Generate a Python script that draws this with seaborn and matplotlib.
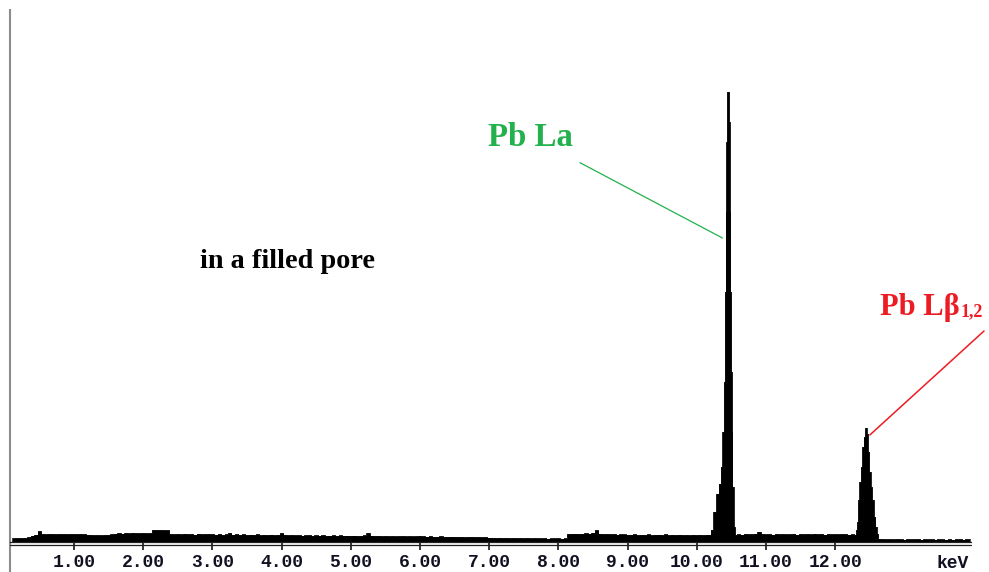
import numpy as np
import pandas as pd
import matplotlib
matplotlib.use("Agg")
import matplotlib.pyplot as plt
import seaborn as sns

# ---------------------------------------------------------------------------
# EDS spectrum (counts per channel), background channels every 0.05 keV
# ---------------------------------------------------------------------------
STEP = 0.05

bg_low_start = 0.10
bg_low = [
    [35, 36, 38, 36, 40, 46, 62, 70, 106, 78, 76, 79, 77, 75, 78, 77, 76, 78],          # 0.10-0.95
    [77, 76, 78, 75, 72, 68, 66, 67, 65, 68, 70, 74, 80, 86, 82, 88, 84, 90, 86, 85],   # 1.00-1.95
    [88, 84, 86, 117, 118, 117, 116, 115, 78, 74, 78, 73, 80, 75, 77, 72, 82, 74, 76, 78],  # 2.00-2.95
    [75, 72, 78, 70, 74, 88, 72, 76, 70, 74, 68, 72, 70, 74, 66, 70, 68, 72, 66, 70],   # 3.00-3.95
    [86, 70, 66, 68, 64, 66, 62, 64, 66, 60, 64, 62, 65, 60, 62, 64, 60, 63, 61, 62],   # 4.00-4.95
    [60, 62, 58, 60, 64, 86, 62, 58, 60, 56, 58, 55, 57, 54, 56, 58, 54, 56, 53, 55],   # 5.00-5.95
    [60, 54, 52, 56, 50, 52, 54, 50, 48, 52, 50, 48, 50, 46, 48, 50, 46, 48, 45, 47],   # 6.00-6.95
    [42, 40, 38, 40, 37, 39, 36, 38, 36, 37, 35, 37, 34, 36, 35, 33, 35, 32, 33, 34],   # 7.00-7.95
    [34, 32, 33, 78, 80, 82, 78, 80, 84, 80, 88, 116, 80, 76, 78, 74, 76, 72, 74, 73],  # 8.00-8.95
    [72, 70, 74, 68, 71, 69, 73, 67, 70, 72, 68, 74, 66, 70, 68, 72, 67, 69, 66, 70],   # 9.00-9.95
    [68, 70, 66, 72],                                                                   # 10.00-10.15
]

# Pb La peak profile
la_energy = [10.18, 10.22, 10.26, 10.30, 10.33, 10.36, 10.38, 10.40, 10.41, 10.42,
             10.43, 10.44, 10.46, 10.47, 10.48, 10.49, 10.50, 10.51, 10.52, 10.54, 10.56]
la_counts = [70, 120, 300, 480, 580, 750, 1100, 1600, 2500, 3300,
             4000, 4500, 4500, 4200, 3300, 2500, 1700, 1100, 550, 150, 70]

bg_mid_start = 10.60
bg_mid = [75, 72, 78, 74, 76, 80, 100, 78, 74, 76, 72, 78, 74, 77, 73, 75, 79,
          72, 76, 74, 78, 73, 80, 75, 77, 72, 78, 74, 76, 73, 77, 75, 72, 74]

# Pb Lb1,2 peak profile
lb_energy = [12.29, 12.31, 12.32, 12.34, 12.36, 12.38, 12.40, 12.42, 12.445,
             12.46, 12.48, 12.50, 12.52, 12.54, 12.57, 12.59, 12.61, 12.63]
lb_counts = [70, 120, 200, 420, 600, 750, 950, 1050, 1140,
             1080, 900, 700, 550, 420, 250, 150, 80, 30]

bg_high_start = 12.65
bg_high = [28, 26, 24, 25, 23, 26, 24, 22, 25, 23, 24, 26, 22, 24,
           23, 25, 22, 24, 23, 21, 24, 22, 23, 25, 22, 24, 23]

tick_values = [1, 2, 3, 4, 5, 6, 7, 8, 9, 10, 11, 12]
tick_labels = ["1.00", "2.00", "3.00", "4.00", "5.00", "6.00",
               "7.00", "8.00", "9.00", "10.00", "11.00", "12.00"]

X_MIN, X_MAX = 0.075, 13.962
Y_MAX = 5327

GREEN = "#22B14C"
RED = "#ED1C24"
MONO = ["Liberation Mono", "DejaVu Sans Mono"]


def channels(start, values):
    return list(start + STEP * np.arange(len(values)))


low_counts = [c for row in bg_low for c in row]
energy = (channels(bg_low_start, low_counts) + la_energy
          + channels(bg_mid_start, bg_mid) + lb_energy
          + channels(bg_high_start, bg_high))
counts = low_counts + la_counts + bg_mid + lb_counts + bg_high
spectrum = pd.DataFrame({"energy": energy, "counts": counts})

# ---------------------------------------------------------------------------
sns.set_theme(style="white")
plt.rcParams["font.family"] = ["Liberation Serif", "DejaVu Serif"]

W, H = 989, 572
fig = plt.figure(figsize=(W / 100, H / 100), dpi=100)
fig.patch.set_facecolor("white")
base_y = 541.7
top_y = 9.0
ax = fig.add_axes([10 / W, (H - base_y) / H, (971 - 10) / W, (base_y - top_y) / H])
ax.set_facecolor("white")

ax.fill_between(spectrum["energy"], 0, spectrum["counts"], step="mid",
                color="black", linewidth=0)
sns.lineplot(data=spectrum, x="energy", y="counts", ax=ax, color="black",
             linewidth=0.6, drawstyle="steps-mid", estimator=None, sort=False)

ax.set_xlim(X_MIN, X_MAX)
ax.set_ylim(0, Y_MAX)
ax.set_xlabel("")
ax.set_ylabel("")
ax.set_yticks([])

# frame: gray left rule running down past the axis, doubled bottom rule
for side in ("top", "right", "left"):
    ax.spines[side].set_visible(False)
ax.spines["bottom"].set_color("#202020")
ax.spines["bottom"].set_linewidth(0.9)
below = -(H - base_y) / (base_y - top_y)
ax.plot([0, 0], [below, 1.0], transform=ax.transAxes, color="#8c8c8c",
        linewidth=1.5, clip_on=False, solid_capstyle="butt")
second = -3.3 / (base_y - top_y)
ax.plot([0, 1], [second, second], transform=ax.transAxes, color="#202020",
        linewidth=0.9, clip_on=False)

ax.set_xticks(tick_values)
ax.set_xticklabels(tick_labels, family=MONO, fontweight="bold", fontsize=13)
ax.tick_params(axis="x", direction="out", length=6, width=1.1,
               colors="black", pad=3, bottom=True)
for lbl in ax.get_xticklabels():
    lbl.set_color("#111122")

label_y = -(564 - base_y) / (base_y - top_y)
ax.text(13.69, label_y, "keV", transform=ax.get_xaxis_transform(),
        ha="center", va="center", family=MONO,
        fontweight="bold", fontsize=13, color="#111122")

# peak labels and leader lines
ax.text(6.983, 3957, "Pb La", color=GREEN, fontsize=23.7, fontweight="bold",
        ha="left", va="baseline")
ax.plot([8.312, 10.37], [3790, 3037], color=GREEN, linewidth=0.9)

ax.text(2.82, 2737, "in a filled pore", color="black", fontsize=20.3,
        fontweight="bold", ha="left", va="baseline")

t_lb = ax.text(12.65, 2267, "Pb L\u03b2", color=RED, fontsize=22,
               fontweight="bold", ha="left", va="baseline", clip_on=False)
fig.canvas.draw()
bb = t_lb.get_window_extent()
x_after = ax.transData.inverted().transform((bb.x1 + 1, 0))[0]
ax.text(x_after, 2255, "1,2", color=RED, fontsize=13, fontweight="bold",
        ha="left", va="baseline", clip_on=False)
ax.plot([14.15, 12.50], [2107, 1067], color=RED, linewidth=1.1, clip_on=False)

fig.savefig("out.png", dpi=100, facecolor="white")
